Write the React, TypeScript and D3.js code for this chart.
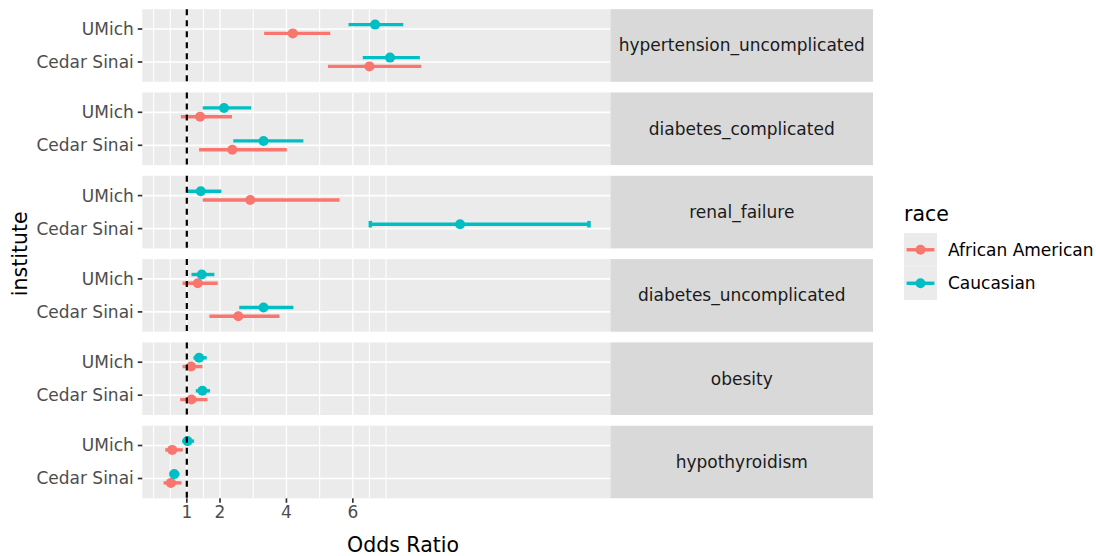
import React from "react";
import * as d3 from "d3";

// ---- data ----
const conditions = [
  "hypertension_uncomplicated",
  "diabetes_complicated",
  "renal_failure",
  "diabetes_uncomplicated",
  "obesity",
  "hypothyroidism",
];
const institutes = ["UMich", "Cedar Sinai"];
const races = ["African American", "Caucasian"];

// African American
const aaUMichOR = [4.19, 1.4, 2.91, 1.33, 1.13, 0.56];
const aaUMichLo = [3.33, 0.82, 1.48, 0.87, 0.87, 0.35];
const aaUMichHi = [5.32, 2.36, 5.6, 1.93, 1.47, 0.88];
const aaCedarOR = [6.5, 2.37, null, 2.55, 1.14, 0.52];
const aaCedarLo = [5.25, 1.37, null, 1.68, 0.8, 0.3];
const aaCedarHi = [8.06, 4.01, null, 3.79, 1.62, 0.84];
// Caucasian
const caUMichOR = [6.67, 2.12, 1.42, 1.45, 1.37, 1.02];
const caUMichLo = [5.87, 1.48, 1.0, 1.14, 1.2, 0.86];
const caUMichHi = [7.52, 2.94, 2.04, 1.83, 1.6, 1.22];
const caCedarOR = [7.12, 3.31, 9.23, 3.31, 1.47, 0.62];
const caCedarLo = [6.3, 2.4, 6.52, 2.58, 1.27, 0.48];
const caCedarHi = [8.02, 4.51, 13.12, 4.21, 1.7, 0.78];

const xTicks = [1, 2, 4, 6];
const xGrid = [0, 0.5, 1, 1.5, 2, 3, 4, 5, 6, 6.5, 7];
const refLine = 1;
const raceColors = ["#F8766D", "#00BFC4"];

type Row = { cond: string; inst: string; race: string; or: number; lo: number; hi: number };

const series = [
  { race: races[0], inst: institutes[0], or: aaUMichOR, lo: aaUMichLo, hi: aaUMichHi },
  { race: races[0], inst: institutes[1], or: aaCedarOR, lo: aaCedarLo, hi: aaCedarHi },
  { race: races[1], inst: institutes[0], or: caUMichOR, lo: caUMichLo, hi: caUMichHi },
  { race: races[1], inst: institutes[1], or: caCedarOR, lo: caCedarLo, hi: caCedarHi },
];

const rows: Row[] = [];
series.forEach((s) => {
  conditions.forEach((c, i) => {
    if (s.or[i] == null) return;
    rows.push({ cond: c, inst: s.inst, race: s.race, or: s.or[i] as number, lo: s.lo[i] as number, hi: s.hi[i] as number });
  });
});

// ---- layout ----
const W = 1096;
const H = 556;
const panelLeft = 142.3;
const panelRight = 610.5;
const stripRight = 873;
const panelTop = 9.2;
const panelH = 72.6;
const panelGap = 10.7;
const FONT = "DejaVu Sans";

export default function App() {
  const lo = d3.min(rows, (r) => r.lo) as number;
  const hi = d3.max(rows, (r) => r.hi) as number;
  const pad = (hi - lo) * 0.05;
  const x = d3.scaleLinear().domain([lo - pad, hi + pad]).range([panelLeft, panelRight]);
  const y = d3.scalePoint<string>().domain(institutes).range([0, panelH]).padding(0.6);
  const step = y.step();
  const dodge = d3.scalePoint<string>().domain(races).range([step * 0.133, -step * 0.133]);
  const color = d3.scaleOrdinal<string, string>().domain(races).range(raceColors);
  const bottom = panelTop + conditions.length * panelH + (conditions.length - 1) * panelGap;

  return (
    <svg width={W} height={H} style={{ position: "absolute", left: 0, top: 0, background: "#fff" }} fontFamily={FONT}>
      {conditions.map((c, ci) => {
        const top = panelTop + ci * (panelH + panelGap);
        const pr = rows.filter((r) => r.cond === c);
        return (
          <g key={c} transform={`translate(0,${top})`}>
            <rect x={panelLeft} y={0} width={panelRight - panelLeft} height={panelH} fill="#EBEBEB" />
            {xGrid.map((g) => (
              <line key={g} x1={x(g)} x2={x(g)} y1={0} y2={panelH} stroke="#fff" strokeWidth={xTicks.includes(g) ? 1.3 : 1.1} />
            ))}
            {institutes.map((inst) => (
              <line key={inst} x1={panelLeft} x2={panelRight} y1={y(inst)} y2={y(inst)} stroke="#fff" strokeWidth={1.7} />
            ))}
            {pr.map((r, i) => {
              const yy = (y(r.inst) as number) + (dodge(r.race) as number);
              const capped = x(r.hi) > panelRight - 30;
              return (
                <g key={i}>
                  <line x1={x(r.lo)} x2={x(r.hi)} y1={yy} y2={yy} stroke={color(r.race)} strokeWidth={3.4} />
                  {capped && (
                    <>
                      <rect x={x(r.lo) - 1.5} y={yy - 3.3} width={3.5} height={6.6} fill={color(r.race)} />
                      <rect x={x(r.hi) - 2} y={yy - 3.3} width={3.5} height={6.6} fill={color(r.race)} />
                    </>
                  )}
                  <circle cx={x(r.or)} cy={yy} r={5} fill={color(r.race)} />
                </g>
              );
            })}
            <line x1={x(refLine)} x2={x(refLine)} y1={0} y2={panelH} stroke="#000" strokeWidth={2.2} strokeDasharray="6,5" />
            {/* strip */}
            <rect x={panelRight} y={0} width={stripRight - panelRight} height={panelH} fill="#D9D9D9" />
            <text x={(panelRight + stripRight) / 2} y={panelH / 2} dy="0.35em" textAnchor="middle" fontSize={17} fill="#1A1A1A">
              {c}
            </text>
            {/* y axis */}
            {institutes.map((inst) => (
              <g key={inst}>
                <line x1={panelLeft - 4.5} x2={panelLeft} y1={y(inst)} y2={y(inst)} stroke="#333" strokeWidth={1.7} />
                <text x={panelLeft - 8.5} y={y(inst)} dy="0.35em" textAnchor="end" fontSize={17} fill="#4D4D4D">
                  {inst}
                </text>
              </g>
            ))}
          </g>
        );
      })}
      {/* x axis */}
      {xTicks.map((t) => (
        <g key={t}>
          <line x1={x(t)} x2={x(t)} y1={bottom} y2={bottom + 4.5} stroke="#333" strokeWidth={1.7} />
          <text x={x(t)} y={bottom + 19.5} textAnchor="middle" fontSize={17} fill="#4D4D4D">
            {t}
          </text>
        </g>
      ))}
      <text x={403} y={552} textAnchor="middle" fontSize={20.5} fill="#000">
        Odds Ratio
      </text>
      <text transform={`translate(27,${(panelTop + bottom) / 2}) rotate(-90)`} textAnchor="middle" fontSize={20.5} fill="#000">
        institute
      </text>
      {/* legend */}
      <text x={904} y={221} fontSize={20.5} fill="#000">
        race
      </text>
      {races.map((r, i) => {
        const ky = 233 + i * 33.5;
        return (
          <g key={r}>
            <rect x={904} y={ky} width={33} height={33.5} fill="#EBEBEB" />
            <line x1={906.6} x2={934.4} y1={ky + 16.75} y2={ky + 16.75} stroke={color(r)} strokeWidth={3.4} />
            <circle cx={920.5} cy={ky + 16.75} r={5} fill={color(r)} />
            <text x={948} y={ky + 16.75} dy="0.35em" fontSize={17} fill="#000">
              {r}
            </text>
          </g>
        );
      })}
    </svg>
  );
}
